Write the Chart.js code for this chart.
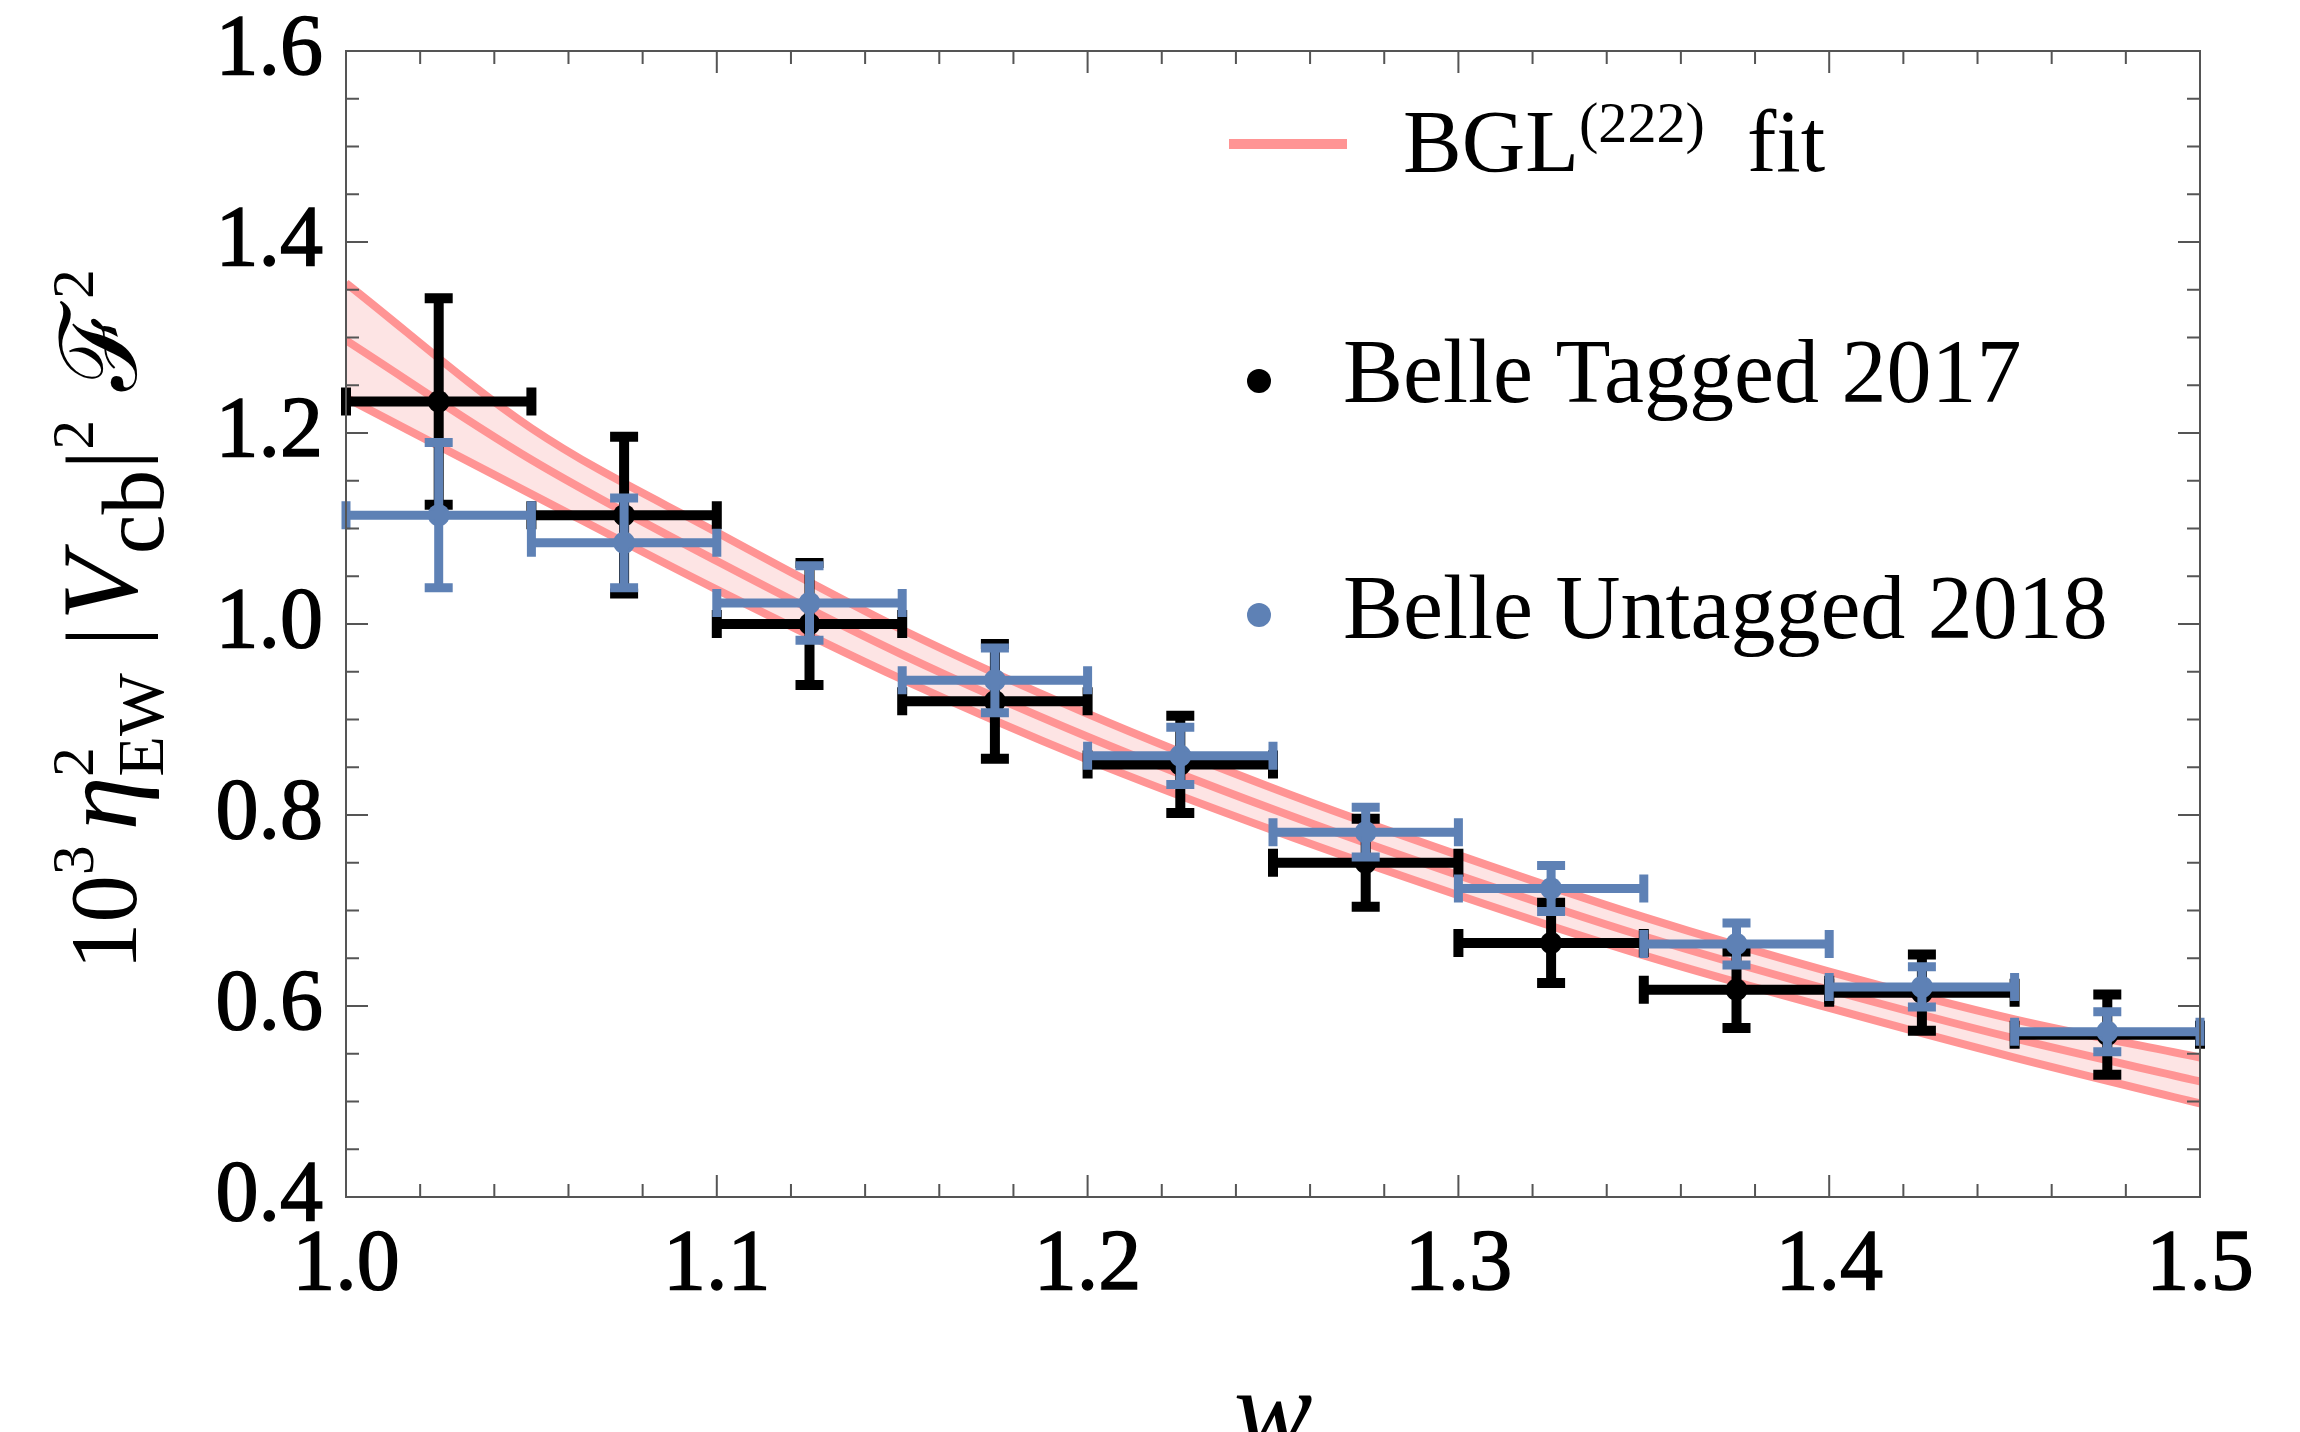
<!DOCTYPE html>
<html>
<head>
<meta charset="utf-8">
<script src="https://cdn.jsdelivr.net/npm/chart.js@4.4.1/dist/chart.umd.min.js"></script>
<style>
  html, body { margin: 0; padding: 0; background: #fff; }
  #wrap { width: 2300px; height: 1432px; }
</style>
</head>
<body>
<div id="wrap"><canvas id="formFactorChart" width="2300" height="1432"></canvas></div>
<script>
const SERIF = '"Liberation Serif", "DejaVu Serif", serif';
const BLUE = '#5e81b5';
const BLACK = '#000000';
const PINK = 'rgb(255,148,148)';
const PINK_FILL = 'rgb(253,228,228)';

// bins in w (centre, half width 0.025)
const binCenters = [1.025, 1.075, 1.125, 1.175, 1.225, 1.275, 1.325, 1.375, 1.425, 1.475];
const binHalfWidth = 0.025;

// Belle tagged 2017
const taggedValues = [1.233, 1.114, 1.000, 0.919, 0.853, 0.750, 0.666, 0.617, 0.614, 0.570];
const taggedErrors = [0.108, 0.082, 0.064, 0.060, 0.051, 0.046, 0.042, 0.040, 0.040, 0.042];

// Belle untagged 2018
const untaggedValues = [1.114, 1.085, 1.022, 0.941, 0.862, 0.782, 0.723, 0.665, 0.620, 0.573];
const untaggedErrors = [0.076, 0.047, 0.039, 0.034, 0.030, 0.026, 0.024, 0.022, 0.021, 0.021];

// BGL(222) fit band
const fitW = [1.00, 1.05, 1.10, 1.15, 1.20, 1.25, 1.30, 1.35, 1.40, 1.45, 1.50];
const fitCentral = [1.297, 1.172, 1.066, 0.968, 0.882, 0.806, 0.737, 0.673, 0.617, 0.566, 0.521];
const fitUpper = [1.357, 1.205, 1.096, 0.994, 0.906, 0.828, 0.758, 0.693, 0.636, 0.586, 0.546];
const fitLower = [1.237, 1.136, 1.036, 0.942, 0.858, 0.784, 0.716, 0.653, 0.598, 0.546, 0.498];

const xTicks = [1.0, 1.1, 1.2, 1.3, 1.4, 1.5];
const yTicks = [0.4, 0.6, 0.8, 1.0, 1.2, 1.4, 1.6];

const toPoints = (xs, ys) => xs.map((x, i) => ({ x: x, y: ys[i] }));

// horizontal + vertical error bars with end caps
const errorBarPlugin = {
    id: 'errorBars',
    afterDatasetDraw(chart, args) {
        const ds = chart.data.datasets[args.index];
        if (!ds.errors) return;
        const c = chart.ctx;
        const xs = chart.scales.x, ys = chart.scales.y;
        const cap = 14;
        c.save();
        c.strokeStyle = ds.backgroundColor;
        c.lineWidth = ds.barWidth;
        c.lineCap = 'butt';
        ds.data.forEach((p, i) => {
            const px = xs.getPixelForValue(p.x);
            const py = ys.getPixelForValue(p.y);
            const x0 = xs.getPixelForValue(p.x - binHalfWidth);
            const x1 = xs.getPixelForValue(p.x + binHalfWidth);
            const y0 = ys.getPixelForValue(p.y - ds.errors[i]);
            const y1 = ys.getPixelForValue(p.y + ds.errors[i]);
            c.beginPath();
            c.moveTo(x0, py); c.lineTo(x1, py);
            c.moveTo(px, y0); c.lineTo(px, y1);
            c.moveTo(x0, py - cap); c.lineTo(x0, py + cap);
            c.moveTo(x1, py - cap); c.lineTo(x1, py + cap);
            c.moveTo(px - cap, y0); c.lineTo(px + cap, y0);
            c.moveTo(px - cap, y1); c.lineTo(px + cap, y1);
            c.stroke();
        });
        c.restore();
    }
};

// Mathematica-like frame with inward ticks on all four sides
const framePlugin = {
    id: 'frame',
    afterDraw(chart) {
        const c = chart.ctx;
        const a = chart.chartArea;
        const xs = chart.scales.x, ys = chart.scales.y;
        c.save();
        c.strokeStyle = '#555';
        c.lineWidth = 2;
        c.strokeRect(a.left, a.top, a.right - a.left, a.bottom - a.top);
        c.beginPath();
        for (let k = 0; k <= 25; k++) {
            const px = xs.getPixelForValue(1.0 + k * 0.02);
            const len = k % 5 === 0 ? 22 : 13;
            c.moveTo(px, a.bottom); c.lineTo(px, a.bottom - len);
            c.moveTo(px, a.top); c.lineTo(px, a.top + len);
        }
        for (let k = 0; k <= 24; k++) {
            const py = ys.getPixelForValue(0.4 + k * 0.05);
            const len = k % 4 === 0 ? 22 : 13;
            c.moveTo(a.left, py); c.lineTo(a.left + len, py);
            c.moveTo(a.right, py); c.lineTo(a.right - len, py);
        }
        c.stroke();
        c.restore();
    }
};

// draw a run of text pieces (sub/superscripts) along a baseline
function drawRun(c, pieces, base) {
    let x = 0;
    let stackW = 0;
    pieces.forEach(p => {
        if (p.gap) { x += p.gap * base; return; }
        const size = base * (p.scale || 1);
        c.font = (p.italic ? 'italic ' : '') + size + 'px ' + (p.family || SERIF);
        const w = c.measureText(p.t).width;
        c.fillText(p.t, x, (p.dy || 0) * base);
        if (p.stack) {
            stackW = Math.max(stackW, w);
        } else {
            x += Math.max(w, stackW);
            stackW = 0;
        }
    });
    return x;
}

const yTitlePlugin = {
    id: 'yTitle',
    afterDraw(chart) {
        const c = chart.ctx;
        const a = chart.chartArea;
        const base = 95;
        const pieces = [
            { t: '10' },
            { t: '3', scale: 0.62, dy: -0.45 },
            { gap: 0.16 },
            { t: 'η', italic: true, scale: 1.14 },
            { t: '2', scale: 0.62, dy: -0.45, stack: true },
            { t: 'EW', scale: 0.7, dy: 0.28 },
            { gap: 0.28 },
            { t: '|', scale: 1.08 },
            { gap: 0.06 },
            { t: 'V', italic: true, scale: 1.14 },
            { t: 'cb', scale: 0.94, dy: 0.28 },
            { t: '|', scale: 1.08 },
            { t: '2', scale: 0.62, dy: -0.45 },
            { gap: 0.3 },
            { t: 'ℱ', scale: 1.12, family: '"DejaVu Serif", serif' },
            { gap: 0.05 },
            { t: '2', scale: 0.62, dy: -0.45 }
        ];
        c.save();
        c.fillStyle = '#000';
        c.textBaseline = 'alphabetic';
        c.textAlign = 'left';
        c.translate(136, a.top + 919);
        c.rotate(-Math.PI / 2);
        drawRun(c, pieces, base);
        c.restore();
    }
};

// legend placed inside the plot, upper right
const legendPlugin = {
    id: 'insideLegend',
    afterDraw(chart) {
        const c = chart.ctx;
        const a = chart.chartArea;
        const lx = a.left + 883;
        const tx = a.left + 997;
        c.save();
        c.fillStyle = '#000';
        c.textBaseline = 'alphabetic';
        // fit line
        c.strokeStyle = PINK;
        c.lineWidth = 10;
        c.beginPath();
        c.moveTo(lx, a.top + 93);
        c.lineTo(lx + 118, a.top + 93);
        c.stroke();
        c.save();
        c.translate(a.left + 1057, a.top + 120);
        drawRun(c, [
            { t: 'BGL' },
            { t: '(222)', scale: 0.66, dy: -0.33 },
            { gap: 0.48 },
            { t: 'fit' }
        ], 88);
        c.restore();
        // data entries
        const entries = [
            { label: 'Belle Tagged 2017', color: BLACK, dotY: 330, textY: 351 },
            { label: 'Belle Untagged 2018', color: BLUE, dotY: 564, textY: 587 }
        ];
        c.font = '90px ' + SERIF;
        entries.forEach(e => {
            c.fillStyle = e.color;
            c.beginPath();
            c.arc(lx + 30, a.top + e.dotY, 12, 0, Math.PI * 2);
            c.fill();
            c.fillStyle = '#000';
            c.fillText(e.label, tx, a.top + e.textY);
        });
        c.restore();
    }
};

const ctx = document.getElementById('formFactorChart').getContext('2d');

new Chart(ctx, {
    type: 'scatter',
    data: {
        datasets: [{
            label: 'Belle Untagged 2018',
            data: toPoints(binCenters, untaggedValues),
            errors: untaggedErrors,
            barWidth: 9,
            backgroundColor: BLUE,
            borderWidth: 0,
            pointRadius: 11,
            order: 0
        }, {
            label: 'Belle Tagged 2017',
            data: toPoints(binCenters, taggedValues),
            errors: taggedErrors,
            barWidth: 10,
            backgroundColor: BLACK,
            borderWidth: 0,
            pointRadius: 11,
            order: 1
        }, {
            label: 'BGL upper',
            type: 'line',
            data: toPoints(fitW, fitUpper),
            borderColor: PINK,
            borderWidth: 8,
            backgroundColor: PINK_FILL,
            pointRadius: 0,
            cubicInterpolationMode: 'monotone',
            fill: '+2',
            order: 2
        }, {
            label: 'BGL fit',
            type: 'line',
            data: toPoints(fitW, fitCentral),
            borderColor: PINK,
            borderWidth: 8,
            pointRadius: 0,
            cubicInterpolationMode: 'monotone',
            fill: false,
            order: 3
        }, {
            label: 'BGL lower',
            type: 'line',
            data: toPoints(fitW, fitLower),
            borderColor: PINK,
            borderWidth: 8,
            pointRadius: 0,
            cubicInterpolationMode: 'monotone',
            fill: false,
            order: 4
        }]
    },
    options: {
        responsive: false,
        animation: false,
        devicePixelRatio: 1,
        layout: { padding: { top: 51, right: 100, left: 0, bottom: 0 } },
        plugins: {
            legend: { display: false },
            tooltip: { enabled: false },
            filler: { drawTime: 'beforeDatasetsDraw' }
        },
        scales: {
            x: {
                type: 'linear',
                min: 1.0,
                max: 1.5,
                afterBuildTicks: s => { s.ticks = xTicks.map(v => ({ value: v })); },
                afterFit: s => { s.height = 235; s.paddingLeft = 0; s.paddingRight = 0; },
                grid: { display: false, drawTicks: false },
                border: { display: false },
                ticks: {
                    color: '#000',
                    padding: 18,
                    maxRotation: 0,
                    autoSkip: false,
                    textStrokeColor: '#000',
                    textStrokeWidth: 1.5,
                    font: { family: SERIF, size: 86 },
                    callback: v => v.toFixed(1)
                },
                title: {
                    display: true,
                    text: 'w',
                    color: '#000',
                    padding: 0,
                    font: { family: SERIF, size: 118, style: 'italic', lineHeight: 0.22 }
                }
            },
            y: {
                min: 0.4,
                max: 1.6,
                afterBuildTicks: s => { s.ticks = yTicks.map(v => ({ value: v })); },
                afterFit: s => { s.width = 346; s.paddingTop = 0; s.paddingBottom = 0; },
                grid: { display: false, drawTicks: false },
                border: { display: false },
                ticks: {
                    color: '#000',
                    padding: 23,
                    autoSkip: false,
                    textStrokeColor: '#000',
                    textStrokeWidth: 1.5,
                    font: { family: SERIF, size: 86 },
                    callback: v => v.toFixed(1)
                }
            }
        }
    },
    plugins: [errorBarPlugin, framePlugin, yTitlePlugin, legendPlugin]
});
</script>
</body>
</html>
